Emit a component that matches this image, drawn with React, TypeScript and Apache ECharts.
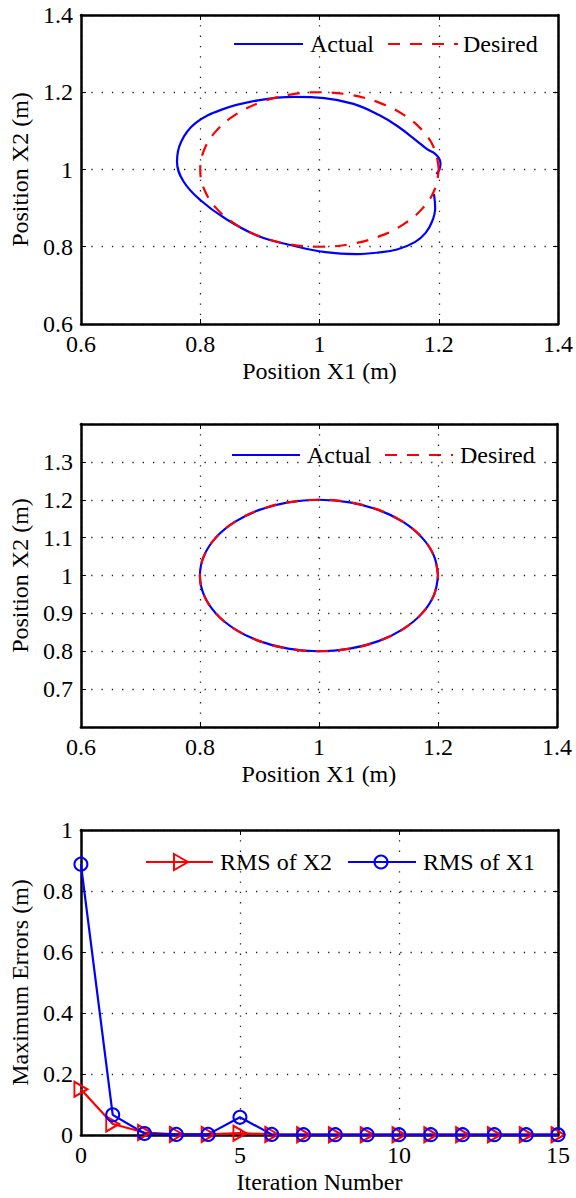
import React, { useEffect, useRef } from "react";
import * as echarts from "echarts";

// ---------- Panel 1: trajectory before learning ----------
const p1Actual: [number, number][] = [
  [1.192, 0.937], [1.194, 0.9], [1.189, 0.866], [1.178, 0.836], [1.16, 0.812],
  [1.13, 0.793], [1.098, 0.785], [1.062, 0.781], [1.01, 0.786], [0.958, 0.802],
  [0.897, 0.828], [0.842, 0.873], [0.8, 0.921], [0.772, 0.969], [0.761, 1.02],
  [0.768, 1.072], [0.792, 1.12], [0.836, 1.155], [0.897, 1.179], [0.958, 1.188],
  [1.008, 1.185], [1.057, 1.17], [1.1, 1.141], [1.131, 1.112], [1.164, 1.073],
  [1.181, 1.052], [1.193, 1.042], [1.2, 1.03], [1.203, 1.016], [1.201, 1.0],
  [1.196, 0.988],
];
const p1Desired: [number, number][] = [
  [1.2, 1.0], [1.1932, 1.0518], [1.1732, 1.1], [1.1414, 1.1414], [1.1, 1.1732],
  [1.0518, 1.1932], [1.0, 1.2], [0.9482, 1.1932], [0.9, 1.1732], [0.8586, 1.1414],
  [0.8268, 1.1], [0.8068, 1.0518], [0.8, 1.0], [0.8068, 0.9482], [0.8268, 0.9],
  [0.8586, 0.8586], [0.9, 0.8268], [0.9482, 0.8068], [1.0, 0.8], [1.0518, 0.8068],
  [1.1, 0.8268], [1.1414, 0.8586], [1.1732, 0.9], [1.1932, 0.9482], [1.2, 1.0],
];

// ---------- Panel 2: trajectory after learning ----------
const p2Actual: [number, number][] = [
  [1.2, 1.0], [1.1932, 1.0518], [1.1732, 1.1], [1.1414, 1.1414], [1.1, 1.1732],
  [1.0518, 1.1932], [1.0, 1.2], [0.9482, 1.1932], [0.9, 1.1732], [0.8586, 1.1414],
  [0.8268, 1.1], [0.8068, 1.0518], [0.8, 1.0], [0.8068, 0.9482], [0.8268, 0.9],
  [0.8586, 0.8586], [0.9, 0.8268], [0.9482, 0.8068], [1.0, 0.8], [1.0518, 0.8068],
  [1.1, 0.8268], [1.1414, 0.8586], [1.1732, 0.9], [1.1932, 0.9482], [1.2, 1.0],
];
const p2Desired: [number, number][] = [
  [1.2, 1.0], [1.1932, 1.0518], [1.1732, 1.1], [1.1414, 1.1414], [1.1, 1.1732],
  [1.0518, 1.1932], [1.0, 1.2], [0.9482, 1.1932], [0.9, 1.1732], [0.8586, 1.1414],
  [0.8268, 1.1], [0.8068, 1.0518], [0.8, 1.0], [0.8068, 0.9482], [0.8268, 0.9],
  [0.8586, 0.8586], [0.9, 0.8268], [0.9482, 0.8068], [1.0, 0.8], [1.0518, 0.8068],
  [1.1, 0.8268], [1.1414, 0.8586], [1.1732, 0.9], [1.1932, 0.9482], [1.2, 1.0],
];

// ---------- Panel 3: errors vs iteration ----------
const iterationNumbers = [0, 1, 2, 3, 4, 5, 6, 7, 8, 9, 10, 11, 12, 13, 14, 15];
const rmsX2 = [0.15, 0.036, 0.008, 0.002, 0.002, 0.006, 0.002, 0.001, 0.001, 0.001, 0.001, 0.001, 0.001, 0.001, 0.001, 0.001];
const rmsX1 = [0.888, 0.066, 0.005, 0.002, 0.002, 0.058, 0.002, 0.001, 0.001, 0.001, 0.001, 0.001, 0.001, 0.001, 0.001, 0.001];

// axis ranges (tick labels are generated from these)
const p1XRange = [0.6, 1.4, 0.2];
const p1YRange = [0.6, 1.4, 0.2];
const p2XRange = [0.6, 1.4, 0.2];
const p2YRange = [0.6, 1.4, 0.1];
const p3XRange = [0, 15, 5];
const p3YRange = [0, 1, 0.2];

const FONT = "Liberation Serif";
const FS = 24;
const BLUE = "#0000ff";
const RED = "#ff0000";
const LW = 2.2;

function mainAxis(range: number[], gridIndex: number, name: string, nameGap: number, position: string, labelExtra: any = {}) {
  return {
    type: "value",
    gridIndex,
    position,
    min: range[0],
    max: range[1],
    interval: range[2],
    name,
    nameLocation: "middle",
    nameGap,
    nameTextStyle: { color: "#000", fontFamily: FONT, fontSize: FS },
    axisLine: { show: true, onZero: false, lineStyle: { color: "#000", width: 2.5 } },
    axisTick: { show: true, inside: true, length: 5, lineStyle: { color: "#000", width: 1 } },
    axisLabel: { color: "#000", fontFamily: FONT, fontSize: FS, margin: 8, ...labelExtra },
    splitLine: { show: true, lineStyle: { color: "#222", width: 1.3, type: [1.3, 9] } },
  };
}
function mirrorAxis(range: number[], gridIndex: number, position: string) {
  return {
    type: "value",
    gridIndex,
    position,
    min: range[0],
    max: range[1],
    interval: range[2],
    axisLine: { show: true, onZero: false, lineStyle: { color: "#000", width: 2.5 } },
    axisTick: { show: true, inside: true, length: 5, lineStyle: { color: "#000", width: 1 } },
    axisLabel: { show: false },
    splitLine: { show: false },
  };
}

function legendLine(x1: number, x2: number, y: number, color: string, dash?: number[]) {
  return {
    type: "line",
    shape: { x1, y1: y, x2, y2: y },
    style: { stroke: color, lineWidth: LW, lineDash: dash },
  };
}
function legendText(x: number, y: number, text: string) {
  return {
    type: "text",
    x,
    y,
    style: { text, fill: "#000", fontFamily: FONT, fontSize: FS, align: "left", verticalAlign: "middle" },
  };
}

export default function App() {
  const ref = useRef<HTMLDivElement>(null);
  useEffect(() => {
    if (!ref.current) return;
    const chart = echarts.init(ref.current, null, { renderer: "svg" });
    const dash = [12, 10];
    const option: any = {
      animation: false,
      backgroundColor: "#fff",
      textStyle: { fontFamily: FONT, color: "#000" },
      grid: [
        { left: 80, top: 15, width: 482, height: 309 },
        { left: 73, top: 424, width: 484, height: 303 },
        { left: 76, top: 830, width: 482, height: 305 },
      ],
      xAxis: [
        mainAxis(p1XRange, 0, "Position X1 (m)", 35, "bottom"),
        mirrorAxis(p1XRange, 0, "top"),
        mainAxis(p2XRange, 1, "Position X1 (m)", 35, "bottom"),
        mirrorAxis(p2XRange, 1, "top"),
        mainAxis(p3XRange, 2, "Iteration Number", 35, "bottom"),
        mirrorAxis(p3XRange, 2, "top"),
      ],
      yAxis: [
        mainAxis(p1YRange, 0, "Position X2 (m)", 49, "left"),
        mirrorAxis(p1YRange, 0, "right"),
        mainAxis(p2YRange, 1, "Position X2 (m)", 48, "left", { showMinLabel: false, showMaxLabel: false }),
        mirrorAxis(p2YRange, 1, "right"),
        mainAxis(p3YRange, 2, "Maximum Errors (m)", 47, "left"),
        mirrorAxis(p3YRange, 2, "right"),
      ],
      series: [
        {
          name: "Actual", type: "line", xAxisIndex: 0, yAxisIndex: 0, data: p1Actual,
          showSymbol: false, smooth: 0.4, lineStyle: { color: BLUE, width: LW }, itemStyle: { color: BLUE },
        },
        {
          name: "Desired", type: "line", xAxisIndex: 0, yAxisIndex: 0, data: p1Desired,
          showSymbol: false, smooth: 0.4, lineStyle: { color: RED, width: LW, type: dash }, itemStyle: { color: RED },
        },
        {
          name: "Actual", type: "line", xAxisIndex: 2, yAxisIndex: 2, data: p2Actual,
          showSymbol: false, smooth: 0.4, lineStyle: { color: BLUE, width: LW }, itemStyle: { color: BLUE },
        },
        {
          name: "Desired", type: "line", xAxisIndex: 2, yAxisIndex: 2, data: p2Desired,
          showSymbol: false, smooth: 0.4, lineStyle: { color: RED, width: LW, type: dash }, itemStyle: { color: RED },
        },
        {
          name: "RMS of X2", type: "line", xAxisIndex: 4, yAxisIndex: 4,
          data: iterationNumbers.map((it, i) => [it, rmsX2[i]]),
          symbol: "triangle", symbolRotate: -90, symbolSize: [15, 13], showAllSymbol: true,
          lineStyle: { color: RED, width: LW },
          itemStyle: { color: "rgba(0,0,0,0)", borderColor: RED, borderWidth: 2 },
          clip: false,
        },
        {
          name: "RMS of X1", type: "line", xAxisIndex: 4, yAxisIndex: 4,
          data: iterationNumbers.map((it, i) => [it, rmsX1[i]]),
          symbol: "circle", symbolSize: 13, showAllSymbol: true,
          lineStyle: { color: BLUE, width: LW },
          itemStyle: { color: "rgba(0,0,0,0)", borderColor: BLUE, borderWidth: 2 },
          clip: false,
        },
      ],
      graphic: [
        // panel 1 legend
        legendLine(234, 303, 44, BLUE),
        legendText(310, 44, "Actual"),
        legendLine(388, 458, 44, RED, dash),
        legendText(463, 44, "Desired"),
        // panel 2 legend
        legendLine(232, 300, 455, BLUE),
        legendText(307, 455, "Actual"),
        legendLine(385, 453, 455, RED, dash),
        legendText(460, 455, "Desired"),
        // panel 3 legend
        legendLine(146, 213, 862, RED),
        {
          type: "polygon",
          shape: { points: [[174, 854], [188, 862], [174, 870]] },
          style: { fill: "none", stroke: RED, lineWidth: 2 },
        },
        legendText(220, 862, "RMS of X2"),
        legendLine(348, 416, 862, BLUE),
        {
          type: "circle",
          shape: { cx: 381, cy: 862, r: 6.5 },
          style: { fill: "none", stroke: BLUE, lineWidth: 2 },
        },
        legendText(423, 862, "RMS of X1"),
      ],
    };
    chart.setOption(option);
    return () => chart.dispose();
  }, []);
  return (
    <div
      ref={ref}
      style={{ position: "absolute", left: 0, top: 0, width: 576, height: 1198, background: "#fff" }}
    />
  );
}
